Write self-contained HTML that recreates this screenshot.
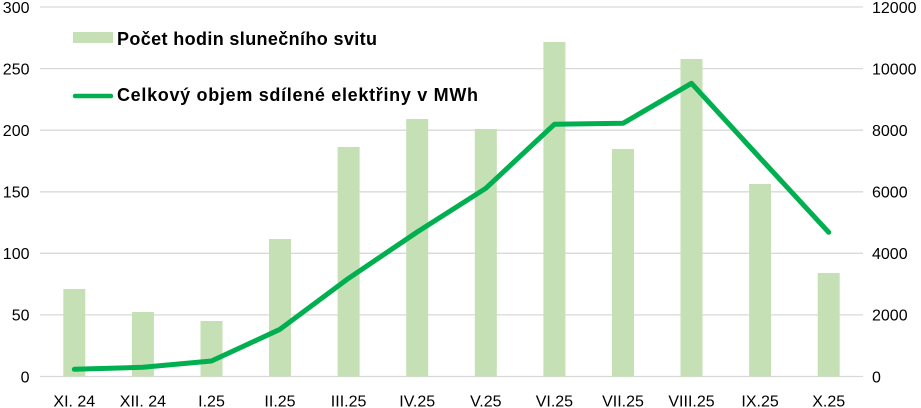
<!DOCTYPE html>
<html>
<head>
<meta charset="utf-8">
<style>
  html,body{margin:0;padding:0;background:#fff;}
  svg{display:block;}
  text{font-family:"Liberation Sans", Arial, sans-serif;}
</style>
</head>
<body>
<svg width="921" height="408" viewBox="0 0 921 408" xmlns="http://www.w3.org/2000/svg">
  <rect width="921" height="408" fill="#ffffff"/>
  <!-- gridlines -->
  <g stroke="#d9d9d9" stroke-width="1.3">
    <line x1="40" y1="7" x2="863" y2="7"/>
    <line x1="40" y1="68.6" x2="863" y2="68.6"/>
    <line x1="40" y1="130.2" x2="863" y2="130.2"/>
    <line x1="40" y1="191.8" x2="863" y2="191.8"/>
    <line x1="40" y1="253.3" x2="863" y2="253.3"/>
    <line x1="40" y1="314.9" x2="863" y2="314.9"/>
    <line x1="40" y1="376.5" x2="863" y2="376.5"/>
  </g>
  <!-- bars -->
  <g fill="#c5e0b4">
    <rect x="63.3" y="289" width="22" height="87.5"/>
    <rect x="131.9" y="312" width="22" height="64.5"/>
    <rect x="200.5" y="321" width="22" height="55.5"/>
    <rect x="269" y="239" width="22" height="137.5"/>
    <rect x="337.6" y="147" width="22" height="229.5"/>
    <rect x="406.2" y="119" width="22" height="257.5"/>
    <rect x="474.8" y="129" width="22" height="247.5"/>
    <rect x="543.4" y="42" width="22" height="334.5"/>
    <rect x="612" y="149" width="22" height="227.5"/>
    <rect x="680.5" y="59" width="22" height="317.5"/>
    <rect x="749.1" y="184" width="22" height="192.5"/>
    <rect x="817.7" y="273" width="22" height="103.5"/>
  </g>
  <!-- line -->
  <polyline fill="none" stroke="#00b050" stroke-width="5" stroke-linejoin="round" stroke-linecap="round"
    points="74.3,369.3 142.9,367.3 211.5,361 280,329.3 348.6,278.3 417.2,232 485.8,188.3 554.4,124.3 623,123.3 691.5,83.3 760.1,158 828.7,232.3"/>
  <!-- left axis labels -->
  <g font-size="16" fill="#000" text-anchor="end">
    <text x="29.5" y="12.8">300</text>
    <text x="29.5" y="74.4">250</text>
    <text x="29.5" y="136">200</text>
    <text x="29.5" y="197.6">150</text>
    <text x="29.5" y="259.1">100</text>
    <text x="29.5" y="320.7">50</text>
    <text x="29.5" y="382.3">0</text>
  </g>
  <!-- right axis labels -->
  <g font-size="16" fill="#000" text-anchor="start">
    <text x="872" y="12.8">12000</text>
    <text x="872" y="74.4">10000</text>
    <text x="872" y="136">8000</text>
    <text x="872" y="197.6">6000</text>
    <text x="872" y="259.1">4000</text>
    <text x="872" y="320.7">2000</text>
    <text x="872" y="382.3">0</text>
  </g>
  <!-- x labels -->
  <g font-size="16" fill="#000" text-anchor="middle">
    <text x="74.3" y="406.5">XI. 24</text>
    <text x="142.9" y="406.5">XII. 24</text>
    <text x="211.5" y="406.5">I.25</text>
    <text x="280" y="406.5">II.25</text>
    <text x="348.6" y="406.5">III.25</text>
    <text x="417.2" y="406.5">IV.25</text>
    <text x="485.8" y="406.5">V.25</text>
    <text x="554.4" y="406.5">VI.25</text>
    <text x="623" y="406.5">VII.25</text>
    <text x="691.5" y="406.5">VIII.25</text>
    <text x="760.1" y="406.5">IX.25</text>
    <text x="828.7" y="406.5">X.25</text>
  </g>
  <!-- legend -->
  <rect x="73" y="32" width="40" height="11" fill="#c5e0b4"/>
  <text x="117" y="45" font-size="18" font-weight="bold" fill="#000" textLength="260" lengthAdjust="spacing">Počet hodin slunečního svitu</text>
  <line x1="75" y1="96" x2="111" y2="96" stroke="#00b050" stroke-width="4.5" stroke-linecap="round"/>
  <text x="117" y="101" font-size="18" font-weight="bold" fill="#000" textLength="361" lengthAdjust="spacing">Celkový objem sdílené elektřiny v MWh</text>
</svg>
</body>
</html>
